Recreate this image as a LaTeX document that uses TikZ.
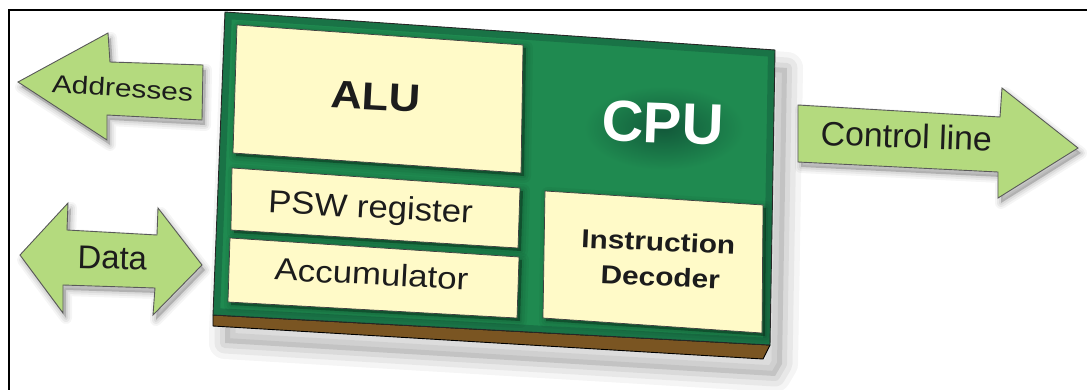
\documentclass[tikz,border=0pt]{standalone}
\usepackage{fontspec}
\usepackage{graphicx}
\setmainfont{Liberation Sans}

\definecolor{boardgreen}{HTML}{1F8A50}
\definecolor{boarddark}{HTML}{12593A}
\definecolor{panelcream}{HTML}{FFFAC8}
\definecolor{arrowgreen}{HTML}{B4DA7E}
\definecolor{boardedge}{HTML}{7A5522}
\definecolor{inktext}{HTML}{1C1C1C}

\newcommand{\sx}[2]{\scalebox{#1}[1]{#2}}

% soft shadow: #1 offset, #2 fill opacity, #3/#4/#5 halo widths (bp), #6 path
\newcommand{\softshadow}[6]{%
  \begin{scope}[shift={#1}, line join=round]
    \fill[black, opacity=#2] #6;
    \draw[black, opacity=0.04, line width=#3bp] #6;
    \draw[black, opacity=0.05, line width=#4bp] #6;
    \draw[black, opacity=0.06, line width=#5bp] #6;
  \end{scope}}

\tikzset{
  arrowshape/.style={fill=arrowgreen, draw=black!65, line width=0.9bp, line join=miter},
  panelbox/.style={fill=panelcream, draw=black!75, line width=0.7bp},
  lbl/.style={text=inktext, inner sep=0pt, anchor=base},
  fsz/.style={font=\fontsize{#1}{#1}\selectfont},
  fszb/.style={font=\fontsize{#1}{#1}\selectfont\bfseries},
}

\begin{document}
\begin{tikzpicture}[x=1bp, y=-1bp]
  % page
  \fill[white] (0,0) rectangle (1087,389);
  \useasboundingbox (0,0) rectangle (1087,389);
  \draw[line width=1.6bp, line cap=rect] (9,389) -- (9,10) -- (1087,10);

  % ---- CPU board ----
  \softshadow{(12,18)}{0.1}{32}{21}{10}{(225,12) -- (775,50) -- (770,346) -- (763,358) -- (213,325) -- (213,316) -- cycle}
  % brown bottom edge
  \draw[fill=boardedge, line width=0.9bp, line join=round]
    (213,315) -- (770,345) -- (763,359) -- (213,326) -- cycle;
  % green top face
  \fill[boardgreen] (225,12) -- (775,50) -- (770,345) -- (213,315) -- cycle;
  \begin{scope}
    \clip (225,12) -- (775,50) -- (770,345) -- (213,315) -- cycle;
    \draw[boarddark, opacity=0.45, line width=14bp]
      (225,12) -- (775,50) -- (770,345) -- (213,315) -- cycle;
    % dark halo behind the board title
    \shade[inner color=boarddark, outer color=boardgreen] (664,128) ellipse [x radius=80, y radius=42];
    % halos cast by the panels
    \softshadow{(3,3)}{0.3}{14}{9}{4}{(237,25) -- (523,45) -- (521,173) -- (233,153) -- cycle}
    \softshadow{(3,3)}{0.3}{14}{9}{4}{(232,168) -- (520,188) -- (518,248) -- (231,230) -- cycle}
    \softshadow{(3,3)}{0.3}{14}{9}{4}{(230,238) -- (519,257) -- (517,318) -- (228,302) -- cycle}
    \softshadow{(3,3)}{0.3}{14}{9}{4}{(545,191) -- (763,205) -- (762,333) -- (543,318) -- cycle}
  \end{scope}
  \draw[black!85, line width=0.9bp, line join=round]
    (225,12) -- (775,50) -- (770,345) -- (213,315) -- cycle;

  % panels on the board
  \draw[panelbox] (237,25) -- (523,45) -- (521,173) -- (233,153) -- cycle;
  \draw[panelbox] (232,168) -- (520,188) -- (518,248) -- (231,230) -- cycle;
  \draw[panelbox] (230,238) -- (519,257) -- (517,318) -- (228,302) -- cycle;
  \draw[panelbox] (545,191) -- (763,205) -- (762,333) -- (543,318) -- cycle;

  % panel texts
  \node[lbl, fszb=39, rotate=-3] (alu) at (375,110) {\sx{1.12}{ALU}};
  \node[lbl, fsz=32, rotate=-3] (psw) at (370,218) {\sx{1.09}{PSW register}};
  \node[lbl, fsz=31, rotate=-3] (acc) at (371,285) {\sx{1.13}{Accumulator}};
  \node[lbl, fszb=26, rotate=-2.5] (instr) at (658,251) {\sx{1.15}{Instruction}};
  \node[lbl, fszb=26, rotate=-2.5] (decod) at (660,286) {\sx{1.15}{Decoder}};

  % board title
  \node[lbl, fszb=58, text=white, rotate=-2] (cpu) at (662,143) {CPU};

  % ---- bus arrows ----
  \softshadow{(3,5)}{0.18}{12}{8}{4}{(18,82) -- (108,33) -- (110,62) -- (203,65) -- (202,120) -- (107,115) -- (107,140) -- cycle}
  \draw[arrowshape] (18,82) -- (108,33) -- (110,62) -- (203,65) -- (202,120)
    -- (107,115) -- (107,140) -- cycle;
  \node[lbl, fsz=25, rotate=-3.5] (addr) at (122,97) {\sx{1.2}{Addresses}};

  \softshadow{(3,5)}{0.18}{12}{8}{4}{(20,255) -- (68,203) -- (67,230) -- (157,235) -- (158,208) -- (202,265) -- (153,315) -- (155,288) -- (63,285) -- (63,313) -- cycle}
  \draw[arrowshape] (20,255) -- (68,203) -- (67,230) -- (157,235) -- (158,208)
    -- (202,265) -- (153,315) -- (155,288) -- (63,285) -- (63,313) -- cycle;
  \node[lbl, fsz=33, rotate=-1.5] (data) at (112,269) {Data};

  \softshadow{(3,5)}{0.18}{12}{8}{4}{(798,105) -- (1000,117) -- (1002,88) -- (1078,148) -- (998,198) -- (998,172) -- (798,162) -- cycle}
  \draw[arrowshape] (798,105) -- (1000,117) -- (1002,88) -- (1078,148)
    -- (998,198) -- (998,172) -- (798,162) -- cycle;
  \node[lbl, fsz=34, rotate=-2] (ctrl) at (906,148) {Control line};
\end{tikzpicture}
\end{document}
